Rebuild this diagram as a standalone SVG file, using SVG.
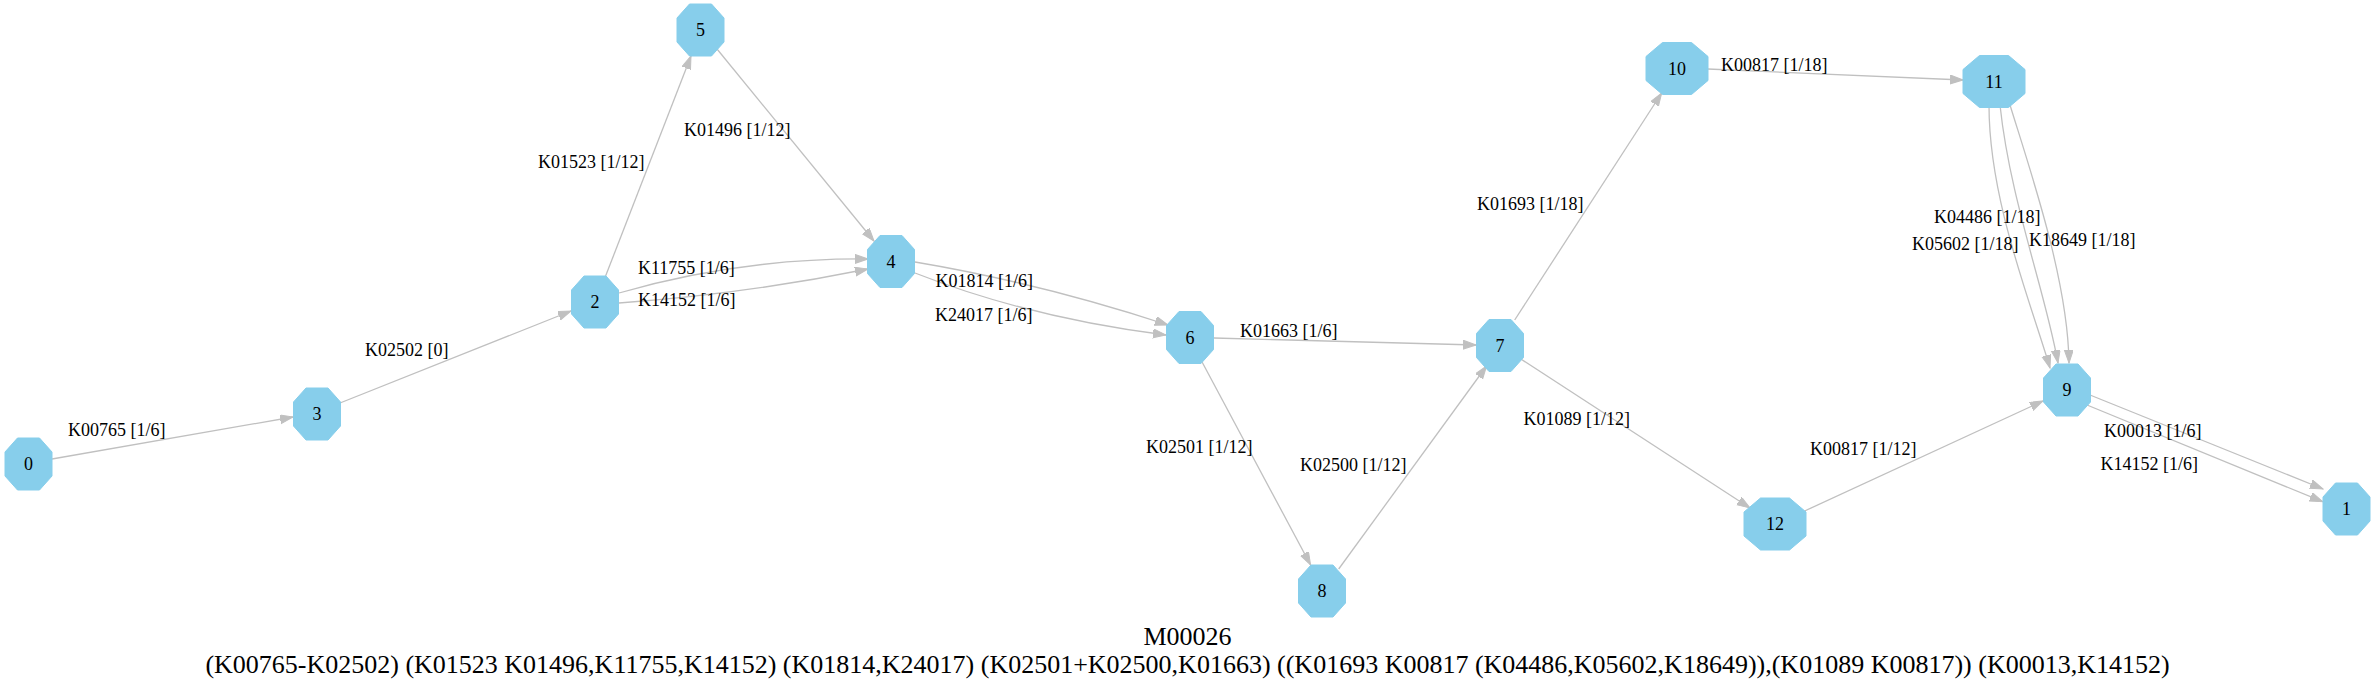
<svg xmlns="http://www.w3.org/2000/svg" width="2375" height="692" viewBox="0 0 2375 692">
<style>
.n polygon{fill:#87CEEB;stroke:#87CEEB;stroke-width:1}
.n text{font-family:"Liberation Serif","Times New Roman",serif;font-size:18px;text-anchor:middle;fill:#000}
.e path{fill:none;stroke:#C0C0C0;stroke-width:1.3;marker-end:url(#arr)}
.lbl{font-family:"Liberation Serif","Times New Roman",serif;font-size:18px;fill:#000}
.title{font-family:"Liberation Serif","Times New Roman",serif;font-size:26px;text-anchor:middle;fill:#000}
</style>
<defs>
<marker id="arr" markerUnits="userSpaceOnUse" markerWidth="14" markerHeight="10" refX="13" refY="4.5" orient="auto">
<path d="M0,0 L13,4.5 L0,9 z" fill="#C0C0C0" stroke="#C0C0C0" stroke-width="1"/>
</marker>
</defs>
<rect width="2375" height="692" fill="#fff"/>
<g id="connectors" class="e">
<path d="M52,459 L293,417"/>
<path d="M340,403 L571,311"/>
<path d="M605.6,276 L691,56"/>
<path d="M717,49 L874,241"/>
<path d="M619,293 Q740,258 868,259"/>
<path d="M619,303 Q745,294 868,269"/>
<path d="M915,262 Q1040,283 1168,325"/>
<path d="M915,273 Q1030,318 1166,335"/>
<path d="M1214,338 L1476,345"/>
<path d="M1201,360 L1310.6,565"/>
<path d="M1338.7,569 L1486.6,366"/>
<path d="M1514.7,320 L1661.7,93"/>
<path d="M1707.7,69 L1963,80"/>
<path d="M1520.8,359 L1750,508"/>
<path d="M1804.6,511 L2043,401"/>
<path d="M1989,105 C1989,200 2030,300 2050,368"/>
<path d="M2000,105 C2010,200 2045,290 2058,363"/>
<path d="M2010,105 C2030,170 2068,280 2069,363"/>
<path d="M2090,395 L2323,489"/>
<path d="M2087,405 L2322.7,501.7"/>
</g>
<g id="edge-labels" class="lbl">
<text x="68" y="436">K00765 [1/6]</text>
<text x="365" y="356">K02502 [0]</text>
<text x="538" y="168">K01523 [1/12]</text>
<text x="684" y="136">K01496 [1/12]</text>
<text x="638" y="274">K11755 [1/6]</text>
<text x="638" y="306">K14152 [1/6]</text>
<text x="935.5" y="287">K01814 [1/6]</text>
<text x="935" y="321">K24017 [1/6]</text>
<text x="1240" y="337">K01663 [1/6]</text>
<text x="1146" y="453">K02501 [1/12]</text>
<text x="1300" y="471">K02500 [1/12]</text>
<text x="1477" y="210">K01693 [1/18]</text>
<text x="1721" y="71">K00817 [1/18]</text>
<text x="1523.5" y="425">K01089 [1/12]</text>
<text x="1810" y="455">K00817 [1/12]</text>
<text x="1934" y="223">K04486 [1/18]</text>
<text x="1912" y="250">K05602 [1/18]</text>
<text x="2029" y="246">K18649 [1/18]</text>
<text x="2104" y="437">K00013 [1/6]</text>
<text x="2100.5" y="470">K14152 [1/6]</text>
</g>
<g id="node0" class="n" transform="translate(28.5,464)"><polygon points="-11,-26 11,-26 23.5,-12 23.5,12 11,26 -11,26 -23.5,12 -23.5,-12"/><text y="6">0</text></g>
<g id="node3" class="n" transform="translate(317,414)"><polygon points="-11,-26 11,-26 23.5,-12 23.5,12 11,26 -11,26 -23.5,12 -23.5,-12"/><text y="6">3</text></g>
<g id="node2" class="n" transform="translate(595,302)"><polygon points="-11,-26 11,-26 23.5,-12 23.5,12 11,26 -11,26 -23.5,12 -23.5,-12"/><text y="6">2</text></g>
<g id="node5" class="n" transform="translate(700.5,30)"><polygon points="-11,-26 11,-26 23.5,-12 23.5,12 11,26 -11,26 -23.5,12 -23.5,-12"/><text y="6">5</text></g>
<g id="node4" class="n" transform="translate(891,261.5)"><polygon points="-11,-26 11,-26 23.5,-12 23.5,12 11,26 -11,26 -23.5,12 -23.5,-12"/><text y="6">4</text></g>
<g id="node6" class="n" transform="translate(1190,337.5)"><polygon points="-11,-26 11,-26 23.5,-12 23.5,12 11,26 -11,26 -23.5,12 -23.5,-12"/><text y="6">6</text></g>
<g id="node7" class="n" transform="translate(1500,345.5)"><polygon points="-11,-26 11,-26 23.5,-12 23.5,12 11,26 -11,26 -23.5,12 -23.5,-12"/><text y="6">7</text></g>
<g id="node8" class="n" transform="translate(1322,591)"><polygon points="-11,-26 11,-26 23.5,-12 23.5,12 11,26 -11,26 -23.5,12 -23.5,-12"/><text y="6">8</text></g>
<g id="node10" class="n" transform="translate(1677,68.5)"><polygon points="-14.5,-26 14.5,-26 31,-12 31,12 14.5,26 -14.5,26 -31,12 -31,-12"/><text y="6">10</text></g>
<g id="node11" class="n" transform="translate(1994,81.5)"><polygon points="-14.5,-26 14.5,-26 31,-12 31,12 14.5,26 -14.5,26 -31,12 -31,-12"/><text y="6">11</text></g>
<g id="node9" class="n" transform="translate(2067,390)"><polygon points="-11,-26 11,-26 23.5,-12 23.5,12 11,26 -11,26 -23.5,12 -23.5,-12"/><text y="6">9</text></g>
<g id="node12" class="n" transform="translate(1775,524)"><polygon points="-14.5,-26 14.5,-26 31,-12 31,12 14.5,26 -14.5,26 -31,12 -31,-12"/><text y="6">12</text></g>
<g id="node1" class="n" transform="translate(2346.5,509)"><polygon points="-11,-26 11,-26 23.5,-12 23.5,12 11,26 -11,26 -23.5,12 -23.5,-12"/><text y="6">1</text></g>
<g id="title">
<text class="title" x="1187.5" y="645">M00026</text>
<text class="title" x="1187.5" y="673">(K00765-K02502) (K01523 K01496,K11755,K14152) (K01814,K24017) (K02501+K02500,K01663) ((K01693 K00817 (K04486,K05602,K18649)),(K01089 K00817)) (K00013,K14152)</text>
</g>
</svg>
